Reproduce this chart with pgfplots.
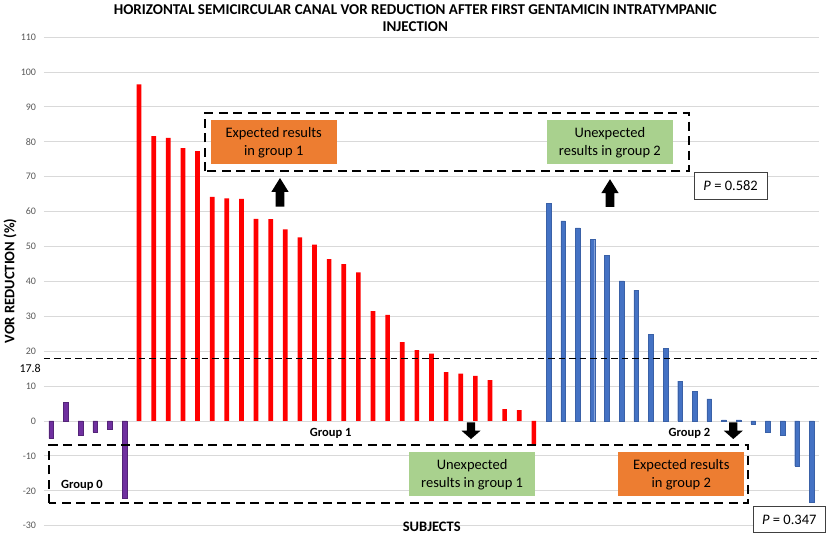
\documentclass[border=0pt]{standalone}
\usepackage{pgfplots}
\pgfplotsset{compat=1.18}
\usepackage{fontspec}
\setmainfont{Carlito}
\definecolor{gpurple}{HTML}{7030A0}
\definecolor{gred}{HTML}{FF0000}
\definecolor{gblue}{HTML}{4472C4}
\definecolor{gorange}{HTML}{ED7D31}
\definecolor{ggreen}{HTML}{A9D18E}
\definecolor{ggrid}{HTML}{D9D9D9}
\definecolor{gtick}{HTML}{595959}
\begin{document}
\begin{tikzpicture}
\useasboundingbox (-44bp,-10.3bp) rectangle (785bp,525.7bp);
\begin{axis}[
  at={(0,0)}, anchor=south west,
  scale only axis, width=775bp, height=488.7bp,
  xmin=-0.5, xmax=52.5, ymin=-30, ymax=110,
  xtick=\empty,
  ytick={-30,-20,-10,0,10,20,30,40,50,60,70,80,90,100,110},
  yticklabels={-30,-20,-10,0,10,20,30,40,50,60,70,80,90,100,110},
  yticklabel style={font=\fontsize{10bp}{12bp}\selectfont, text=gtick, xshift=-4.5bp},
  ymajorgrids, grid style={ggrid, line width=0.8bp},
  axis line style={draw=none},
  major tick length=0pt,
  clip=false,
]
\addplot[ybar, bar width=4.7bp, bar shift=0pt, fill=gpurple, draw=gpurple!75!black, line width=0.5bp] coordinates {
 (0,-5.0) (1,5.4) (2,-4.2) (3,-3.2) (4,-2.4) (5,-22.2)};
\addplot[ybar, bar width=4.7bp, bar shift=0pt, fill=gred, draw=none] coordinates {
 (6,96.4) (7,81.6) (8,81.1) (9,78.2) (10,77.3) (11,64.2) (12,63.8) (13,63.6)
 (14,57.9) (15,57.8) (16,54.9) (17,52.6) (18,50.5) (19,46.4) (20,44.9) (21,42.6)
 (22,31.5) (23,30.4) (24,22.6) (25,20.3) (26,19.3) (27,14.0) (28,13.6) (29,12.9)
 (30,11.7) (31,3.4) (32,3.1) (33,-6.9)};
\addplot[ybar, bar width=4.7bp, bar shift=0pt, fill=gblue, draw=gblue!85!black, line width=0.4bp] coordinates {
 (34,62.4) (35,57.3) (36,55.3) (37,52.0) (38,47.5) (39,40.1) (40,37.5) (41,24.9)
 (42,20.9) (43,11.4) (44,8.4) (45,6.3) (46,0.3) (47,0.3) (48,-0.9) (49,-3.2)
 (50,-4.0) (51,-12.9) (52,-23.4)};
\addplot[black, line width=1.2bp, dash pattern=on 6.5bp off 4bp] coordinates {(-0.5,17.8) (52.5,17.8)};
\end{axis}
\begin{scope}[x=1bp,y=1bp]
\node[align=center, font=\bfseries\fontsize{15bp}{17.4bp}\selectfont] at (371.3,507.7)
  {HORIZONTAL SEMICIRCULAR CANAL VOR REDUCTION AFTER FIRST GENTAMICIN INTRATYMPANIC\\INJECTION};
\node[rotate=90, font=\bfseries\fontsize{14.5bp}{17bp}\selectfont] at (-34,244.7) {VOR REDUCTION (\%)};
\node[font=\bfseries\fontsize{14.5bp}{17bp}\selectfont] at (387.7,-1) {SUBJECTS};
\node[anchor=east, font=\fontsize{12bp}{14bp}\selectfont, inner sep=0pt] at (-3,157.7) {17.8};
% dashed boxes
\draw[line width=2bp, dash pattern=on 9bp off 5.5bp] (160.7,354.4) rectangle (644.7,412.7);
\draw[line width=2bp, dash pattern=on 9bp off 5.5bp] (5,22.4) rectangle (704.3,80.7);
% coloured boxes
\node[fill=gorange, minimum width=126bp, minimum height=44bp, inner sep=0pt, align=center,
  font=\fontsize{14.5bp}{18bp}\selectfont] at (229.7,383.4) {Expected results\\in group 1};
\node[fill=ggreen, minimum width=126.3bp, minimum height=44bp, inner sep=0pt, align=center,
  font=\fontsize{14.5bp}{18bp}\selectfont] at (565.85,383.4) {Unexpected\\results in group 2};
\node[fill=ggreen, minimum width=125.7bp, minimum height=44bp, inner sep=0pt, align=center,
  font=\fontsize{14.5bp}{18bp}\selectfont] at (428.15,51.4) {Unexpected\\results in group 1};
\node[fill=gorange, minimum width=126bp, minimum height=44bp, inner sep=0pt, align=center,
  font=\fontsize{14.5bp}{18bp}\selectfont] at (637.3,51.4) {Expected results\\in group 2};
% up arrows
\fill (236,347.7) -- (244.7,333.7) -- (240.35,333.7) -- (240.35,319) -- (231.65,319) -- (231.65,333.7) -- (227.3,333.7) -- cycle;
\fill (566,346.5) -- (574.7,332.5) -- (570.35,332.5) -- (570.35,318.7) -- (561.65,318.7) -- (561.65,332.5) -- (557.3,332.5) -- cycle;
% down arrows
\fill (427,86.7) -- (436.5,95) -- (431.15,95) -- (431.15,103.4) -- (422.85,103.4) -- (422.85,95) -- (417.5,95) -- cycle;
\fill (689.3,86.7) -- (698.8,95) -- (693.45,95) -- (693.45,103.4) -- (685.15,103.4) -- (685.15,95) -- (679.8,95) -- cycle;
% group labels
\node[font=\bfseries\fontsize{12.5bp}{15bp}\selectfont] at (38,40) {Group 0};
\node[font=\bfseries\fontsize{12.5bp}{15bp}\selectfont] at (286.7,92) {Group 1};
\node[font=\bfseries\fontsize{12.5bp}{15bp}\selectfont] at (645.5,92) {Group 2};
% P boxes
\node[draw=black!75, fill=white, line width=0.8bp, minimum width=72.7bp, minimum height=26.6bp, inner sep=0pt,
  font=\fontsize{14.5bp}{17bp}\selectfont] at (686.65,339.7) {\textit{P} = 0.582};
\node[draw=black!75, fill=white, line width=0.8bp, minimum width=72bp, minimum height=25.6bp, inner sep=0pt,
  font=\fontsize{14.5bp}{17bp}\selectfont] at (745.3,6.2) {\textit{P} = 0.347};
\end{scope}
\end{tikzpicture}
\end{document}
